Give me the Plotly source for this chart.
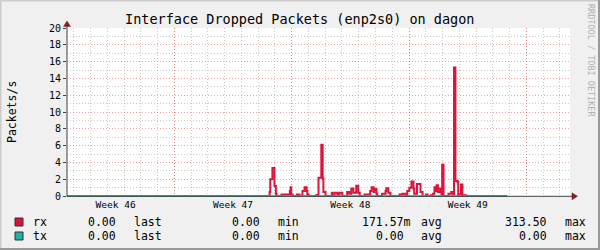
import plotly.graph_objects as go

# ---------------- data ----------------
rx_hours = [0, 290, 291, 294, 297, 299, 300, 307, 319, 320, 321, 323, 329, 333,
            337, 340, 343, 344, 346, 357, 360, 364, 366, 367, 370, 379, 380, 383,
            387, 390, 394, 401, 404, 407, 410, 414, 417, 419, 426, 434, 436, 439,
            440, 443, 444, 451, 456, 457, 460, 463, 476, 480, 484, 487, 490, 493,
            496, 497, 501, 506, 509, 514, 516, 521, 524, 526, 527, 529, 531, 534,
            536, 537, 539, 546, 550, 553, 554, 556, 559, 560, 561, 564, 566, 569,
            571, 630]
rx_values = [0, 0.5, 2.0, 3.35, 1.2, 0.3, 0, 0.2, 0.6, 1.05, 0.2, 0, 0.2, 0,
             0.6, 1.05, 0.6, 0.2, 0, 0.15, 2.2, 6.1, 2.1, 0.5, 0, 0.4, 0, 0.4,
             0.2, 0.4, 0, 0.5, 0.3, 0.9, 0.4, 1.25, 0.4, 0, 0.2, 0.6, 1.05, 0.5,
             0.85, 0.3, 0, 0.3, 0.6, 0.95, 0.4, 0, 0.2, 0.3, 0, 0.6, 1.0, 1.75,
             0.9, 0.3, 1.45, 0.5, 0, 0.2, 0, 0.1, 0.3, 1.05, 0.6, 1.3, 0.5, 0.9,
             0.2, 3.75, 0, 0.3, 0.5, 0.2, 15.3, 1.8, 1.7, 0, 0.2, 1.4, 0, 0.1,
             0, 0]
tx_hours = [0, 630]
tx_values = [0, 0]

week_label_hours = [69.6, 237.6, 405.6, 573.6]
week_labels = ["Week 46", "Week 47", "Week 48", "Week 49"]
week_start_hours = [153.6, 321.6, 489.6, 657.6]

series_names = ["rx", "tx"]
series_colors = ["#DC143C", "#20B2AA"]
last_vals = ["0.00", "0.00"]
min_vals = ["0.00", "0.00"]
avg_vals = ["171.57m", "0.00"]
max_vals = ["313.50", "0.00"]

title = "Interface Dropped Packets (enp2s0) on dagon"
y_title = "Packets/s"
watermark = "RRDTOOL / TOBI OETIKER"

# ---------------- geometry helpers ----------------
L, R, T, B = 67, 570, 28, 197
W, H = R - L, B - T
def px(x):
    return (x - L) / W
def py(y):
    return (B - y) / H

MONO = "DejaVu Sans Mono"

fig = go.Figure()
fig.add_trace(go.Scatter(x=rx_hours, y=rx_values, mode="lines", line_shape="hv",
                         line=dict(color=series_colors[0], width=2), name="rx",
                         showlegend=False))
fig.add_trace(go.Scatter(x=tx_hours, y=tx_values, mode="lines", line_shape="hv",
                         line=dict(color=series_colors[1], width=2), name="tx",
                         showlegend=False))

grid_minor = "rgba(160,160,160,0.55)"
grid_major = "rgba(240,80,80,0.55)"

fig.update_layout(
    width=600, height=250, autosize=False,
    margin=dict(l=L, r=600 - R, t=T, b=250 - B, pad=0),
    paper_bgcolor="#F0F0F0", plot_bgcolor="#FFFFFF",
    font=dict(family=MONO, color="#000000"),
    xaxis=dict(range=[0, 720], showgrid=False, zeroline=False, showline=False,
               tickmode="array", tickvals=week_label_hours, ticktext=week_labels,
               ticks="", tickfont=dict(family=MONO, size=9.5),
               minor=dict(tick0=9.6, dtick=24, showgrid=True, gridcolor=grid_minor,
                          griddash="1px,2px", gridwidth=1, ticks="")),
    xaxis2=dict(range=[0, 720], overlaying="x", showgrid=True, gridcolor=grid_major,
                griddash="1px,2px", gridwidth=1, tickmode="array",
                tickvals=week_start_hours, showticklabels=False, zeroline=False,
                showline=False, ticks=""),
    yaxis=dict(range=[-0.1, 20], dtick=2, tick0=0, showgrid=True, gridcolor=grid_major,
               griddash="1px,2px", gridwidth=1, zeroline=False, showline=False,
               ticks="outside", ticklen=3, tickcolor="#404040",
               tickfont=dict(family=MONO, size=10),
               minor=dict(dtick=1, tick0=0, showgrid=True, gridcolor=grid_minor,
                          griddash="1px,2px", gridwidth=1, ticks="")),
)
# invisible trace to activate xaxis2
fig.add_trace(go.Scatter(x=[0], y=[0], xaxis="x2", mode="markers",
                         marker=dict(opacity=0), showlegend=False, hoverinfo="skip"))

shapes = []
axis_col = "#404040"
arrow_col = "#7F1F1F"
shapes.append(dict(type="line", xref="paper", yref="paper", x0=px(67), x1=px(573),
                   y0=py(196.3), y1=py(196.3), line=dict(color=axis_col, width=1), layer="above"))
shapes.append(dict(type="line", xref="paper", yref="paper", x0=px(67), x1=px(67),
                   y0=py(196.3), y1=py(25), line=dict(color=axis_col, width=1), layer="above"))
shapes.append(dict(type="path", xref="paper", yref="paper",
                   path=f"M {px(572)} {py(192.8)} L {px(577.5)} {py(196.3)} L {px(572)} {py(199.8)} Z",
                   fillcolor=arrow_col, line=dict(color=arrow_col, width=0.5), layer="above"))
shapes.append(dict(type="path", xref="paper", yref="paper",
                   path=f"M {px(63.5)} {py(26.5)} L {px(67)} {py(21)} L {px(70.5)} {py(26.5)} Z",
                   fillcolor=arrow_col, line=dict(color=arrow_col, width=0.5), layer="above"))
# 3D frame
shapes.append(dict(type="rect", xref="paper", yref="paper", x0=px(0), x1=px(600),
                   y0=py(0), y1=py(1.5), fillcolor="#CBCBCB", line=dict(width=0)))
shapes.append(dict(type="rect", xref="paper", yref="paper", x0=px(0), x1=px(1.5),
                   y0=py(0), y1=py(250), fillcolor="#CBCBCB", line=dict(width=0)))
shapes.append(dict(type="rect", xref="paper", yref="paper", x0=px(0), x1=px(600),
                   y0=py(248), y1=py(250), fillcolor="#999999", line=dict(width=0)))
shapes.append(dict(type="rect", xref="paper", yref="paper", x0=px(598), x1=px(600),
                   y0=py(0), y1=py(250), fillcolor="#999999", line=dict(width=0)))

annotations = []
def text(x, y, s, size, xanchor="left", color="#000000", angle=0):
    annotations.append(dict(xref="paper", yref="paper", x=px(x), y=py(y), text=s,
                            showarrow=False, xanchor=xanchor, yanchor="middle",
                            textangle=angle, font=dict(family=MONO, size=size, color=color)))

text(300, 19, title, 13.5, xanchor="center")
text(12, 112, y_title, 11.5, xanchor="center", angle=-90)
text(591, 60, watermark, 8.5, xanchor="center", color="#B0B0B0", angle=90)

row_y = [222, 236]
for i, name in enumerate(series_names):
    y = row_y[i]
    shapes.append(dict(type="rect", xref="paper", yref="paper",
                       x0=px(15), x1=px(23), y0=py(y - 4), y1=py(y + 4),
                       fillcolor=series_colors[i], line=dict(color="#303030", width=1)))
    text(31, y, name, 11.5)
    text(117.5, y, last_vals[i], 11.5, xanchor="right")
    text(132, y, "last", 11.5)
    text(261.5, y, min_vals[i], 11.5, xanchor="right")
    text(276, y, "min", 11.5)
    avg = avg_vals[i]
    text(412.5 if avg.endswith("m") else 405.5, y, avg, 11.5, xanchor="right")
    text(419, y, "avg", 11.5)
    text(548.5, y, max_vals[i], 11.5, xanchor="right")
    text(563, y, "max", 11.5)

fig.update_layout(shapes=shapes, annotations=annotations)
fig.write_html("out.html")
